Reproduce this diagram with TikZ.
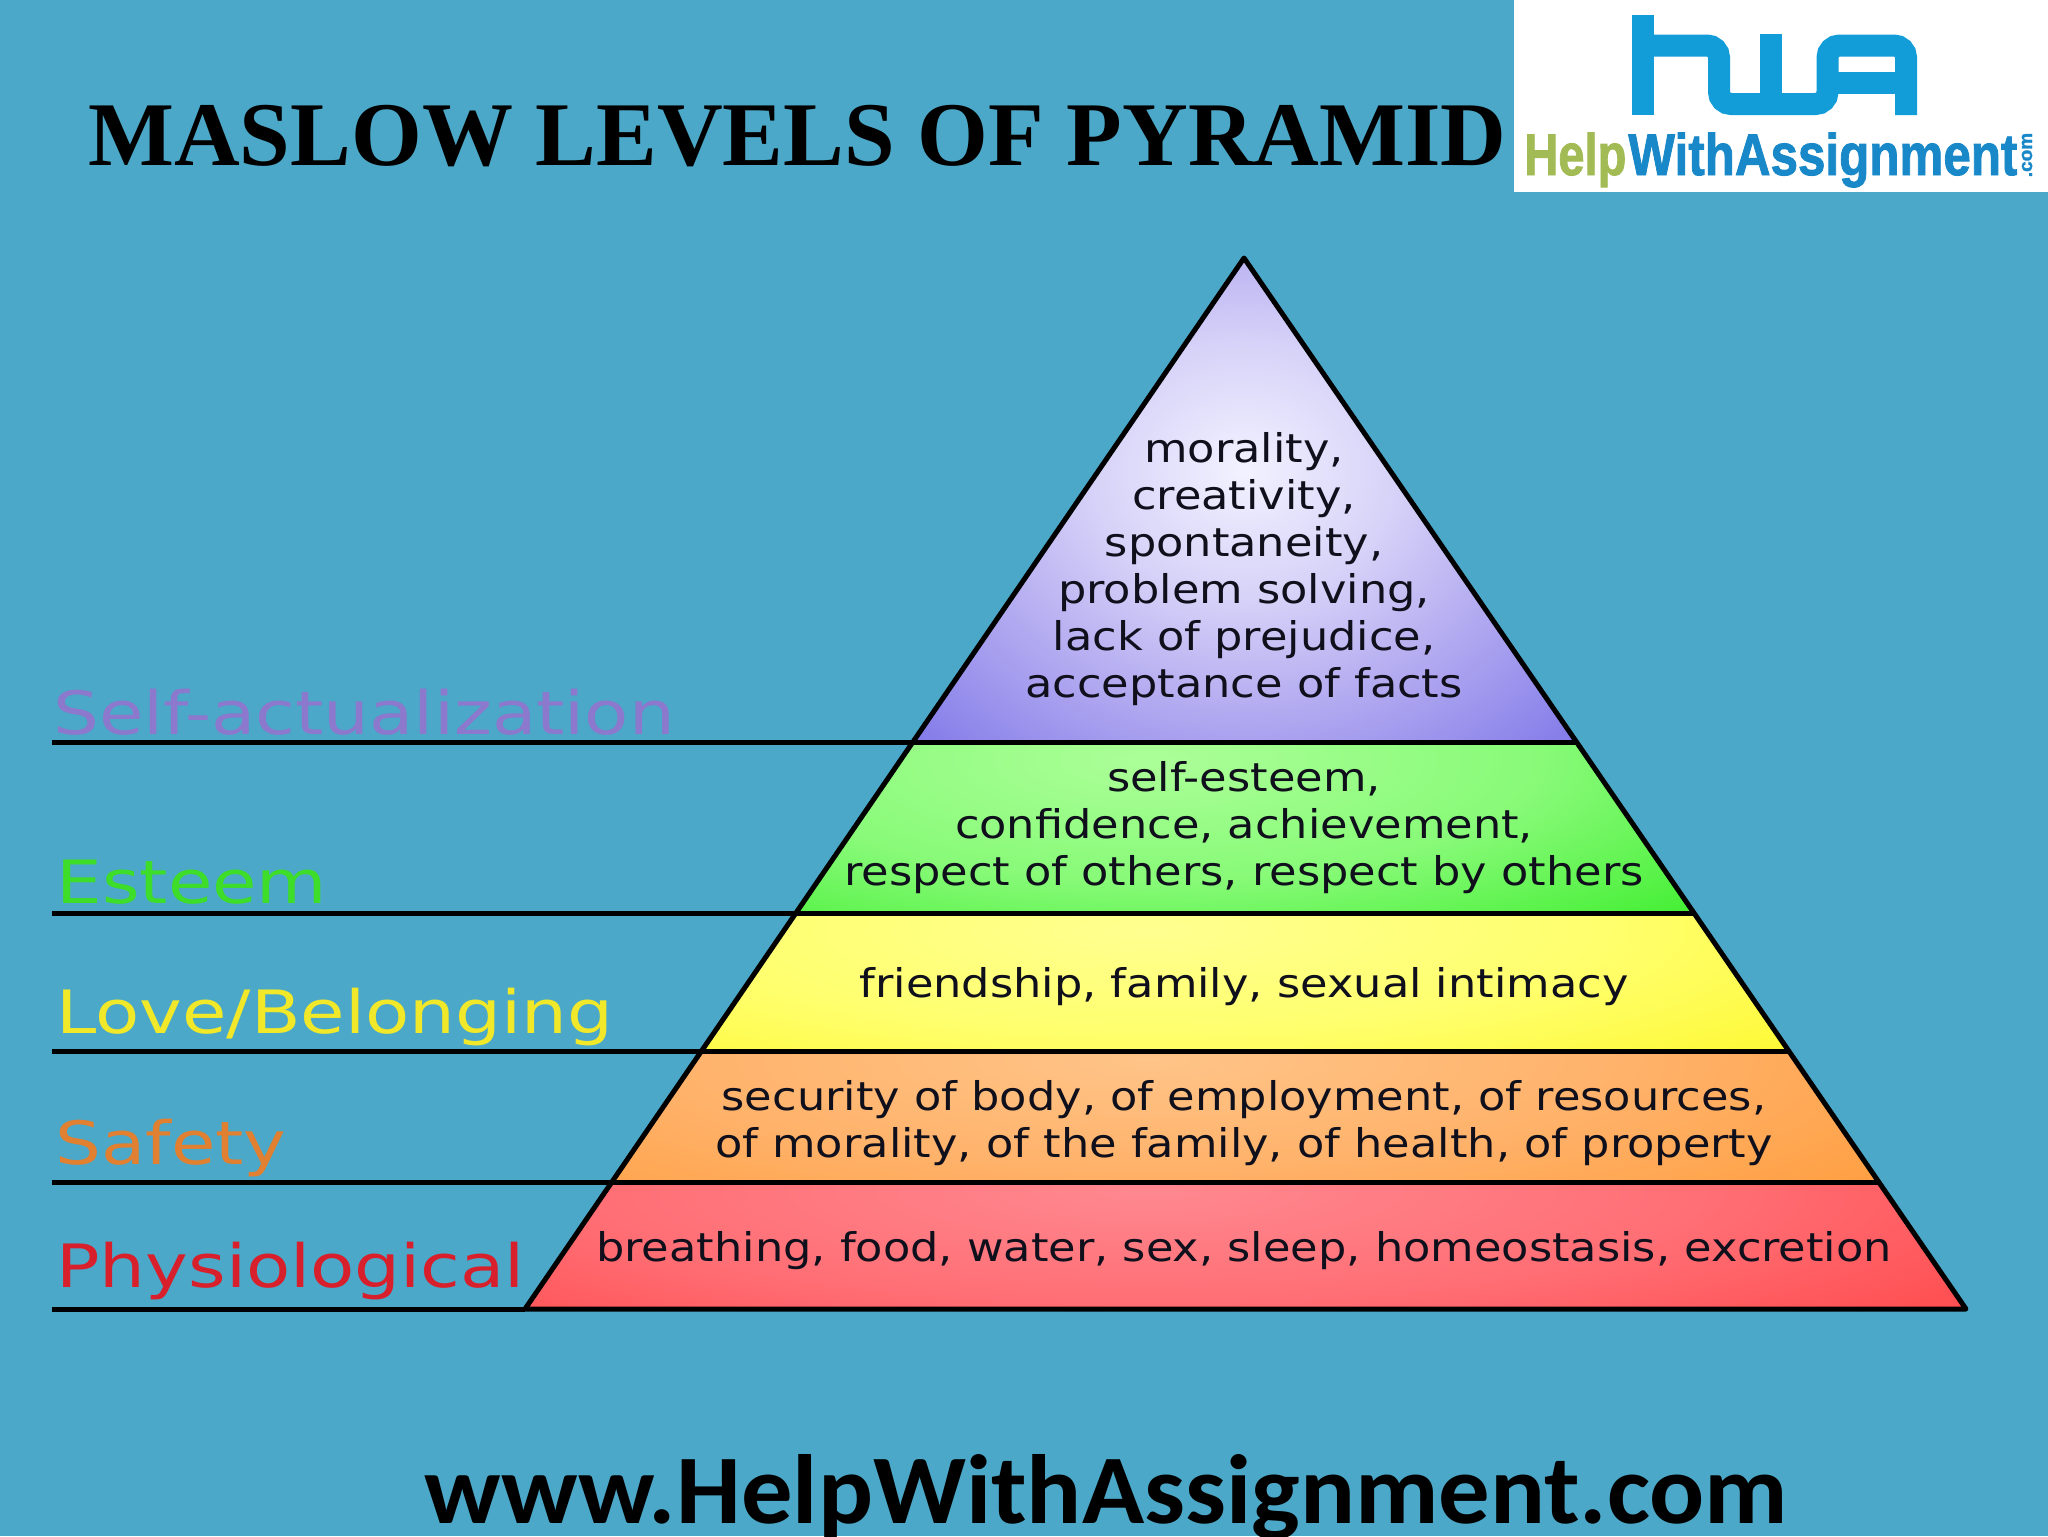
\documentclass[tikz,border=0pt]{standalone}
\usepackage{fontspec}
\usepackage{graphicx}
\setmainfont{Liberation Serif}
\newfontfamily\fdv[FakeStretch=1.13]{DejaVu Sans}
\newfontfamily\fdw[FakeStretch=1.21]{DejaVu Sans}
\newfontfamily\fls[FakeBold=1.6]{Liberation Sans}
\newfontfamily\fcb[FakeStretch=1.043]{Carlito}
\newlength\pxu \setlength\pxu{0.02cm}
\definecolor{bgc}{HTML}{4BA8C8}
\definecolor{logob}{HTML}{129CD8}
\definecolor{logot}{HTML}{1888C8}
\definecolor{logog}{HTML}{A3BB55}
\definecolor{cself}{HTML}{8C78CC}
\definecolor{cest}{HTML}{3DDD2A}
\definecolor{clove}{HTML}{F0E828}
\definecolor{csafe}{HTML}{E08030}
\definecolor{cphys}{HTML}{D8202C}
\definecolor{ptxt}{HTML}{10101C}
\definecolor{sa}{HTML}{F2F2FF}\definecolor{sb}{HTML}{D6D2F8}\definecolor{sc}{HTML}{B2AAF0}\definecolor{sd}{HTML}{8078E8}
\definecolor{ea}{HTML}{ACFF98}\definecolor{eb}{HTML}{88FA78}\definecolor{ec}{HTML}{40EE30}
\definecolor{la}{HTML}{FFFF90}\definecolor{lb}{HTML}{FFFF6E}\definecolor{lc}{HTML}{FDF830}
\definecolor{oa}{HTML}{FFC488}\definecolor{ob}{HTML}{FFB26A}\definecolor{oc}{HTML}{FF9E40}
\definecolor{ra}{HTML}{FF8890}\definecolor{rb}{HTML}{FF6E74}\definecolor{rc}{HTML}{FF4648}
\pgfdeclareradialshading{layself}{\pgfpoint{0bp}{0bp}}{color(0bp)=(sa);color(10bp)=(sb);color(19bp)=(sc);color(31bp)=(sd);color(50bp)=(sd)}
\pgfdeclareradialshading{layest}{\pgfpoint{0bp}{0bp}}{color(0bp)=(ea);color(15bp)=(eb);color(29bp)=(ec);color(50bp)=(ec)}
\pgfdeclareradialshading{laylove}{\pgfpoint{0bp}{0bp}}{color(0bp)=(la);color(15bp)=(lb);color(29bp)=(lc);color(50bp)=(lc)}
\pgfdeclareradialshading{laysafe}{\pgfpoint{0bp}{0bp}}{color(0bp)=(oa);color(15bp)=(ob);color(29bp)=(oc);color(50bp)=(oc)}
\pgfdeclareradialshading{layphys}{\pgfpoint{0bp}{0bp}}{color(0bp)=(ra);color(15bp)=(rb);color(29bp)=(rc);color(50bp)=(rc)}
\tikzset{
  pyr/.style={inner sep=0pt,align=center,text=ptxt,font=\fdv\fontsize{22.5}{26.75}\selectfont},
  lev/.style={inner sep=0pt,anchor=base west,font=\fdw\fontsize{34}{36}\selectfont},
  rule/.style={line width=5\pxu,black},
  logostroke/.style={line width=22\pxu,logob,rounded corners=12\pxu},
}
\begin{document}
\begin{tikzpicture}[x=0.02cm,y=-0.02cm]
\useasboundingbox (0,0) rectangle (2048,1536);
\fill[bgc] (0,0) rectangle (2048,1536);
% coordinates
\coordinate (T) at (1244,258);
\coordinate (L1) at (913,742);  \coordinate (R1) at (1576,742);
\coordinate (L2) at (796,913);  \coordinate (R2) at (1693,913);
\coordinate (L3) at (702,1051); \coordinate (R3) at (1788,1051);
\coordinate (L4) at (612,1182); \coordinate (R4) at (1878,1182);
\coordinate (L5) at (525,1309); \coordinate (R5) at (1966,1309);
\coordinate (A1) at (52,742);
\coordinate (A2) at (52,913);
\coordinate (A3) at (52,1051);
\coordinate (A4) at (52,1182);
\coordinate (A5) at (52,1309);
% layers
\begin{scope}\clip (T)--(L1)--(R1)--cycle;
\shade[shading=layself] (864,150) rectangle (1624,790);\end{scope}
\begin{scope}\clip (L1)--(L2)--(R2)--(R1)--cycle;
\shade[shading=layest] (500,560) rectangle (1800,960);\end{scope}
\begin{scope}\clip (L2)--(L3)--(R3)--(R2)--cycle;
\shade[shading=laylove] (400,760) rectangle (1900,1100);\end{scope}
\begin{scope}\clip (L3)--(L4)--(R4)--(R3)--cycle;
\shade[shading=laysafe] (350,880) rectangle (1950,1240);\end{scope}
\begin{scope}\clip (L4)--(L5)--(R5)--(R4)--cycle;
\shade[shading=layphys] (200,1000) rectangle (2100,1380);\end{scope}
% lines
\draw[rule,line join=round] (T)--(L5)--(R5)--cycle;
\draw[rule] (A1)--(L1)--(R1);
\draw[rule] (A2)--(L2)--(R2);
\draw[rule] (A3)--(L3)--(R3);
\draw[rule] (A4)--(L4)--(R4);
\draw[rule] (A5)--(L5);
% pyramid text
\node[pyr] (tself) at (1244,569) {morality,\\creativity,\\spontaneity,\\problem solving,\\lack of prejudice,\\acceptance of facts};
\node[pyr] (test) at (1244,828) {self-esteem,\\confidence, achievement,\\respect of others, respect by others};
\node[pyr] (tlove) at (1244,987) {friendship, family, sexual intimacy};
\node[pyr] (tsafe) at (1244,1123) {security of body, of employment, of resources,\\of morality, of the family, of health, of property};
\node[pyr] (tphys) at (1244,1251) {breathing, food, water, sex, sleep, homeostasis, excretion};
% level labels
\node[lev,text=cself] (lself) at (53,734) {Self-actualization};
\node[lev,text=cest] (lest) at (56,903) {Esteem};
\node[lev,text=clove] (llove) at (56,1033) {Love/Belonging};
\node[lev,text=csafe] (lsafe) at (55,1164) {Safety};
\node[lev,text=cphys] (lphys) at (56,1287) {Physiological};
% title and footer
\node[inner sep=0pt,anchor=base west,font=\bfseries\fontsize{51.8}{60}\selectfont] (title) at (88,165) {MASLOW LEVELS OF PYRAMID};
\node[inner sep=0pt,anchor=base west,font=\fcb\bfseries\fontsize{56}{60}\selectfont] (footer) at (424,1523) {www.HelpWithAssignment.com};
% logo
\fill[white] (1514,0) rectangle (2048,192);
\draw[logostroke,rounded corners=0pt] (1642.5,15)--(1642.5,115);
\draw[logostroke] (1642.5,45.5)--(1719,45.5)--(1719,104)--(1827.5,104)--(1827.5,45.5)--(1906,45.5)--(1906,115);
\draw[logostroke,rounded corners=0pt] (1771,34)--(1771,104);
\draw[logostroke,rounded corners=0pt] (1827.5,82.5)--(1906,82.5);
\node[inner sep=0pt,anchor=base west,text=logog,font=\fls\bfseries\fontsize{33.4}{36}\selectfont] (lhelp) at (1524,175) {\resizebox{102\pxu}{\height}{Help}};
\node[inner sep=0pt,anchor=base west,text=logot,font=\fls\bfseries\fontsize{33.4}{36}\selectfont] (lwith) at (1628,175) {\resizebox{389\pxu}{\height}{WithAssignment}};
\node[inner sep=0pt,rotate=90,text=logot,font=\fls\bfseries\fontsize{10.8}{12}\selectfont] (lcom) at (2027,155) {.com};
\end{tikzpicture}
\end{document}
